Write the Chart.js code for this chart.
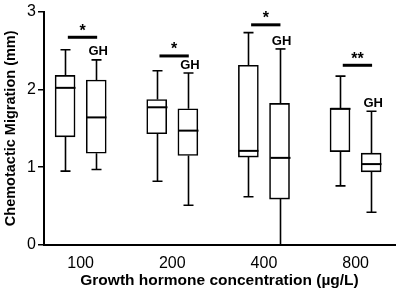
<!DOCTYPE html>
<html>
<head>
<meta charset="utf-8">
<script src="https://cdn.jsdelivr.net/npm/chart.js@4"></script>
<style>
html,body{margin:0;padding:0;background:#fff;}
#wrap{width:400px;height:293px;}
</style>
</head>
<body>
<div id="wrap"><canvas id="c" width="400" height="293"></canvas></div>
<script>
// ---- data ----
const categories = ['100', '200', '400', '800'];
const ctrlMin = [0.95, 0.82, 0.62, 0.76];
const ctrlQ1  = [1.39, 1.43, 1.13, 1.20];
const ctrlMed = [2.02, 1.77, 1.21, 1.75];
const ctrlQ3  = [2.18, 1.87, 2.31, 1.76];
const ctrlMax = [2.51, 2.24, 2.73, 2.17];
const ghMin = [0.97, 0.51, 0.00, 0.42];
const ghQ1  = [1.18, 1.15, 0.59, 0.94];
const ghMed = [1.64, 1.47, 1.12, 1.04];
const ghQ3  = [2.12, 1.75, 1.82, 1.18];
const ghMax = [2.38, 2.21, 2.52, 1.72];
const sigLevel = [2.67, 2.43, 2.83, 2.31];
const sigLabel = ['*', '*', '*', '**'];
const yTicks = [0, 1, 2, 3];

// ---- layout constants (not data) ----
const OFF = 0.17;      // box offset from group centre (x units)
const SIG_L = -0.14, SIG_R = 0.18;
const CAP = 5;         // whisker cap half-width px
const FONT = 'Liberation Sans, Arial, Helvetica, sans-serif';

const boxData = (q1, q3, sign) => categories.map((c, i) => ({x: i + sign * OFF, y: [q1[i], q3[i]]}));

const boxPlugin = {
  id: 'boxplot',
  afterDatasetsDraw(chart) {
    const {ctx, scales: {x, y}} = chart;
    ctx.save();
    ctx.strokeStyle = '#000';
    ctx.fillStyle = '#000';
    ctx.lineCap = 'butt';
    const drawBox = (xi, mn, q1, md, q3, mx) => {
      const cx = Math.round(x.getPixelForValue(xi)) + 0.5;
      const bw = 10;
      ctx.lineWidth = 1.6;
      ctx.beginPath();
      ctx.moveTo(cx, y.getPixelForValue(q3)); ctx.lineTo(cx, y.getPixelForValue(mx));
      ctx.moveTo(cx, y.getPixelForValue(q1)); ctx.lineTo(cx, y.getPixelForValue(mn));
      ctx.stroke();
      ctx.beginPath();
      ctx.moveTo(cx - CAP, y.getPixelForValue(mx)); ctx.lineTo(cx + CAP, y.getPixelForValue(mx));
      if (mn > 0) { ctx.moveTo(cx - CAP, y.getPixelForValue(mn)); ctx.lineTo(cx + CAP, y.getPixelForValue(mn)); }
      ctx.stroke();
      ctx.lineWidth = 2;
      ctx.beginPath();
      ctx.moveTo(cx - bw, y.getPixelForValue(md)); ctx.lineTo(cx + bw, y.getPixelForValue(md));
      ctx.stroke();
    };
    categories.forEach((c, i) => {
      drawBox(i - OFF, ctrlMin[i], ctrlQ1[i], ctrlMed[i], ctrlQ3[i], ctrlMax[i]);
      drawBox(i + OFF, ghMin[i], ghQ1[i], ghMed[i], ghQ3[i], ghMax[i]);
      const sy = y.getPixelForValue(sigLevel[i]);
      ctx.lineWidth = 3;
      ctx.beginPath();
      ctx.moveTo(x.getPixelForValue(i + SIG_L), sy);
      ctx.lineTo(x.getPixelForValue(i + SIG_R), sy);
      ctx.stroke();
      ctx.font = 'bold 16px ' + FONT;
      ctx.textAlign = 'center';
      ctx.textBaseline = 'middle';
      ctx.fillText(sigLabel[i], x.getPixelForValue(i + (SIG_L + SIG_R) / 2), sy - 6);
      ctx.font = 'bold 13px ' + FONT;
      ctx.fillText('GH', x.getPixelForValue(i + OFF) + 2, y.getPixelForValue(ghMax[i]) - 8);
    });
    ctx.restore();
  }
};

new Chart(document.getElementById('c'), {
  type: 'bar',
  data: {
    datasets: [
      {label: 'Control', data: boxData(ctrlQ1, ctrlQ3, -1), backgroundColor: '#fff', borderColor: '#000', borderWidth: 1.6, borderSkipped: false, barThickness: 20, grouped: false},
      {label: 'GH', data: boxData(ghQ1, ghQ3, 1), backgroundColor: '#fff', borderColor: '#000', borderWidth: 1.6, borderSkipped: false, barThickness: 20, grouped: false}
    ]
  },
  options: {
    responsive: false,
    animation: false,
    layout: {padding: {top: 11, right: 5, left: 0, bottom: 0}},
    plugins: {legend: {display: false}, tooltip: {enabled: false}},
    scales: {
      x: {
        type: 'linear', min: -0.4, max: 3.43, offset: false,
        afterBuildTicks: s => { s.ticks = categories.map((c, i) => ({value: i})); },
        afterFit: s => { s.height = 48; },
        ticks: {callback: v => categories[v], color: '#000', font: {family: FONT, size: 16}, padding: 1, maxRotation: 0, autoSkip: false},
        grid: {display: false},
        border: {display: true, color: '#000', width: 2},
        title: {display: true, text: 'Growth hormone concentration (\u00b5g/L)', color: '#000', font: {family: FONT, size: 15.5, weight: 'bold'}, padding: {top: 0, bottom: 3}}
      },
      y: {
        min: 0, max: 3,
        afterBuildTicks: s => { s.ticks = yTicks.map(v => ({value: v})); },
        afterFit: s => { s.width = 44; },
        ticks: {color: '#000', font: {family: FONT, size: 16}, padding: 2},
        grid: {display: true, drawOnChartArea: false, drawTicks: true, tickLength: 6, color: '#000', lineWidth: 1.5},
        border: {display: true, color: '#000', width: 2},
        title: {display: true, text: 'Chemotactic Migration (mm)', color: '#000', font: {family: FONT, size: 14.5, weight: 'bold'}, padding: {top: 2, bottom: 0}}
      }
    }
  },
  plugins: [boxPlugin]
});
</script>
</body>
</html>
